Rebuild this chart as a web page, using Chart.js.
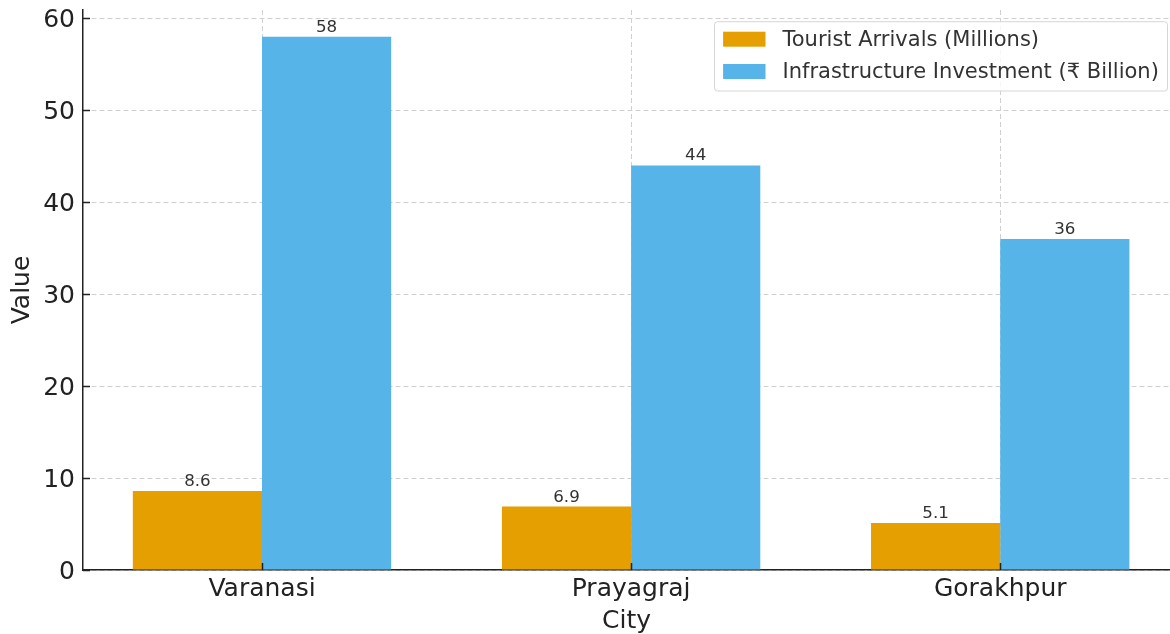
<!DOCTYPE html>
<html>
<head>
<meta charset="utf-8">
<script src="https://cdn.jsdelivr.net/npm/chart.js@4.4.0/dist/chart.umd.min.js"></script>
<style>
  html, body { margin: 0; padding: 0; background: #fff; overflow: hidden; }
  #wrap { width: 1170px; height: 634px; position: relative; }
</style>
</head>
<body>
<div id="wrap"><canvas id="cityChart"></canvas></div>
<script>
const cities = ["Varanasi", "Prayagraj", "Gorakhpur"];
const touristArrivals = [8.6, 6.9, 5.1];
const infraInvestment = [58, 44, 36];
const seriesNames = ["Tourist Arrivals (Millions)", "Infrastructure Investment (\u20B9 Billion)"];
const yTicks = [0, 10, 20, 30, 40, 50, 60];

const FONT = "'DejaVu Sans', sans-serif";
const ORANGE = "#E69F00";
const BLUE = "#56B4E9";

// value labels above each bar
const barLabels = {
  id: "barLabels",
  afterDatasetsDraw(chart) {
    const ctx = chart.ctx;
    ctx.save();
    ctx.font = "16.7px " + FONT;
    ctx.fillStyle = "#333";
    ctx.textAlign = "center";
    ctx.textBaseline = "alphabetic";
    chart.data.datasets.forEach((ds, i) => {
      chart.getDatasetMeta(i).data.forEach((bar, j) => {
        ctx.fillText(String(ds.data[j].y), bar.x, bar.y - 5);
      });
    });
    ctx.restore();
  }
};

// tick marks pointing into the plot, like matplotlib's direction='in'
const innerTicks = {
  id: "innerTicks",
  afterDatasetsDraw(chart) {
    const ctx = chart.ctx;
    const area = chart.chartArea;
    const xs = chart.scales.x, ys = chart.scales.y;
    ctx.save();
    ctx.strokeStyle = "#222";
    ctx.lineWidth = 1.5;
    ctx.beginPath();
    xs.ticks.forEach((t) => {
      const px = Math.round(xs.getPixelForValue(t.value)) + 0.5;
      ctx.moveTo(px, area.bottom);
      ctx.lineTo(px, area.bottom - 7);
    });
    ys.ticks.forEach((t) => {
      const py = Math.round(ys.getPixelForValue(t.value)) + 0.5;
      ctx.moveTo(area.left, py);
      ctx.lineTo(area.left + 7, py);
    });
    ctx.stroke();
    ctx.restore();
  }
};

// matplotlib-style legend inside the plot, upper right
const innerLegend = {
  id: "innerLegend",
  afterDraw(chart) {
    const ctx = chart.ctx;
    const area = chart.chartArea;
    const right = area.right - 2.5;
    const top = area.top + 11.7;
    const w = 453, h = 69.3;
    const left = right - w;
    ctx.save();
    ctx.beginPath();
    ctx.roundRect(left, top, w, h, 3);
    ctx.fillStyle = "rgba(255,255,255,0.8)";
    ctx.fill();
    ctx.strokeStyle = "#d6d6d6";
    ctx.lineWidth = 1;
    ctx.stroke();
    ctx.font = "21px " + FONT;
    ctx.textBaseline = "middle";
    ctx.textAlign = "left";
    chart.data.datasets.forEach((ds, i) => {
      const cy = top + 17.5 + i * 32.3;
      ctx.fillStyle = ds.backgroundColor;
      ctx.fillRect(left + 8.6, cy - 7.5, 42.4, 15);
      ctx.fillStyle = "#333";
      ctx.fillText(ds.label, left + 68, cy + 1);
    });
    ctx.restore();
  }
};

const gridStyle = {
  color: "#d0d0d0",
  lineWidth: 1,
  drawTicks: false
};
const borderStyle = { display: true, color: "#222", width: 1.5, dash: [5, 3] };

new Chart(document.getElementById("cityChart"), {
  type: "bar",
  data: {
    datasets: [
      {
        label: seriesNames[0],
        data: touristArrivals.map((v, i) => ({ x: i, y: v })),
        backgroundColor: ORANGE
      },
      {
        label: seriesNames[1],
        data: infraInvestment.map((v, i) => ({ x: i, y: v })),
        backgroundColor: BLUE
      }
    ]
  },
  options: {
    responsive: true,
    maintainAspectRatio: false,
    animation: false,
    devicePixelRatio: 1,
    categoryPercentage: 0.7,
    barPercentage: 1.0,
    layout: { padding: { top: 10, right: 0, left: 0, bottom: 0 } },
    plugins: {
      legend: { display: false },
      tooltip: { enabled: false }
    },
    scales: {
      x: {
        type: "linear",
        offset: false,
        min: -0.485,
        max: 2.46,
        grid: Object.assign({ offset: false }, gridStyle),
        border: borderStyle,
        afterBuildTicks: (scale) => { scale.ticks = cities.map((c, i) => ({ value: i })); },
        ticks: {
          stepSize: 1,
          includeBounds: false,
          autoSkip: false,
          maxRotation: 0,
          padding: 4,
          color: "#222",
          font: { family: FONT, size: 25 },
          callback: (v) => cities[v] !== undefined ? cities[v] : ""
        },
        title: {
          display: true,
          text: "City",
          color: "#222",
          font: { family: FONT, size: 25 },
          padding: { top: 0, bottom: -2 }
        },
        afterFit: (scale) => { scale.height = 64; scale.paddingLeft = 0; scale.paddingRight = 0; }
      },
      y: {
        min: 0,
        max: 60.9,
        grid: gridStyle,
        border: borderStyle,
        afterBuildTicks: (scale) => { scale.ticks = yTicks.map((v) => ({ value: v })); },
        ticks: {
          stepSize: 10,
          includeBounds: false,
          padding: 8,
          labelOffset: 2,
          color: "#222",
          font: { family: FONT, size: 25 }
        },
        title: {
          display: true,
          text: "Value",
          color: "#222",
          font: { family: FONT, size: 25 },
          padding: { top: 7, bottom: 0 }
        },
        afterFit: (scale) => { scale.width = 83; scale.paddingTop = 0; scale.paddingBottom = 0; }
      }
    }
  },
  plugins: [barLabels, innerTicks, innerLegend]
});
</script>
</body>
</html>
